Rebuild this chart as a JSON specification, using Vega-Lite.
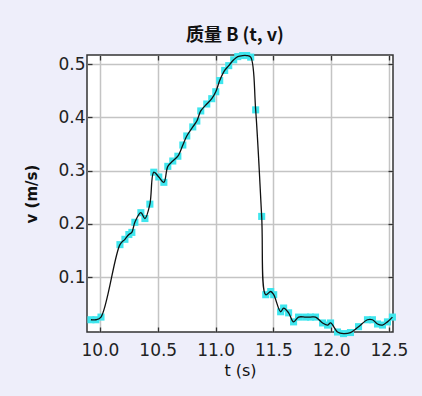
{
  "$schema": "https://vega.github.io/schema/vega-lite/v6.json",
  "width": 306,
  "height": 277,
  "autosize": {"type": "none"},
  "padding": {"left": 87, "top": 55, "right": 29, "bottom": 64},
  "background": "#eeeefa",
  "title": {"text": "质量 B (t, v)", "font": "Noto Sans CJK SC", "fontSize": 18, "fontWeight": "bold", "color": "#111", "anchor": "middle", "offset": 7, "dx": -5},
  "config": {
    "view": {"fill": "white", "stroke": "#333", "strokeWidth": 1.5},
    "axis": {"labelFont": "DejaVu Sans", "labelFontSize": 17, "labelColor": "#222", "titleFont": "DejaVu Sans", "titleColor": "#111", "domain": false, "tickColor": "#333", "tickWidth": 1.3, "tickSize": -5, "gridColor": "#c4c4c4", "gridWidth": 1.5, "gridOpacity": 1}
  },
  "data": {"values": [
    {"t": 9.922, "v": 0.020}, {"t": 9.965, "v": 0.020}, {"t": 10.009, "v": 0.025},
    {"t": 10.173, "v": 0.161}, {"t": 10.216, "v": 0.171}, {"t": 10.250, "v": 0.180},
    {"t": 10.276, "v": 0.184}, {"t": 10.302, "v": 0.203}, {"t": 10.354, "v": 0.221},
    {"t": 10.389, "v": 0.210}, {"t": 10.432, "v": 0.237}, {"t": 10.466, "v": 0.297},
    {"t": 10.509, "v": 0.288}, {"t": 10.553, "v": 0.278}, {"t": 10.587, "v": 0.308},
    {"t": 10.630, "v": 0.318}, {"t": 10.674, "v": 0.327}, {"t": 10.717, "v": 0.348},
    {"t": 10.751, "v": 0.365}, {"t": 10.803, "v": 0.382}, {"t": 10.838, "v": 0.393},
    {"t": 10.872, "v": 0.412}, {"t": 10.924, "v": 0.425}, {"t": 10.967, "v": 0.435},
    {"t": 11.002, "v": 0.448}, {"t": 11.036, "v": 0.469}, {"t": 11.079, "v": 0.488},
    {"t": 11.114, "v": 0.497}, {"t": 11.157, "v": 0.508}, {"t": 11.192, "v": 0.514},
    {"t": 11.235, "v": 0.516}, {"t": 11.269, "v": 0.516}, {"t": 11.304, "v": 0.513},
    {"t": 11.347, "v": 0.414}, {"t": 11.399, "v": 0.214}, {"t": 11.434, "v": 0.067},
    {"t": 11.477, "v": 0.073}, {"t": 11.503, "v": 0.067}, {"t": 11.563, "v": 0.035},
    {"t": 11.589, "v": 0.042}, {"t": 11.632, "v": 0.033}, {"t": 11.675, "v": 0.016},
    {"t": 11.718, "v": 0.025}, {"t": 11.779, "v": 0.025}, {"t": 11.822, "v": 0.025},
    {"t": 11.865, "v": 0.025}, {"t": 11.926, "v": 0.014}, {"t": 11.969, "v": 0.010},
    {"t": 11.995, "v": 0.014}, {"t": 12.055, "v": -0.003}, {"t": 12.107, "v": -0.006},
    {"t": 12.167, "v": -0.004}, {"t": 12.237, "v": 0.007}, {"t": 12.314, "v": 0.020},
    {"t": 12.357, "v": 0.020}, {"t": 12.401, "v": 0.012}, {"t": 12.444, "v": 0.010},
    {"t": 12.487, "v": 0.016}, {"t": 12.530, "v": 0.025}
  ]},
  "layer": [
    {
      "mark": {"type": "point", "shape": "square", "filled": true, "size": 50, "color": "#3fe6ee", "opacity": 1},
      "encoding": {
        "x": {"field": "t", "type": "quantitative", "scale": {"domain": [9.888, 12.535], "nice": false, "zero": false},
              "axis": {"orient": "bottom", "values": [10, 10.5, 11, 11.5, 12, 12.5], "format": ".1f", "title": "t (s)", "titleFontSize": 16, "titleFontWeight": "normal", "titlePadding": 4, "labelPadding": 15, "grid": true}},
        "y": {"field": "v", "type": "quantitative", "scale": {"domain": [-0.003, 0.517], "nice": false, "zero": false},
              "axis": {"orient": "left", "values": [0.1, 0.2, 0.3, 0.4, 0.5], "format": ".1f", "title": "v (m/s)", "titleFontSize": 15, "titleFontWeight": "bold", "titlePadding": 18, "labelPadding": 7, "grid": true}}
      }
    },
    {
      "mark": {"type": "line", "color": "#111", "strokeWidth": 1.3, "interpolate": "catmull-rom"},
      "encoding": {
        "x": {"field": "t", "type": "quantitative", "axis": {"orient": "top", "values": [10, 10.5, 11, 11.5, 12, 12.5], "labels": false, "title": null, "grid": false}},
        "y": {"field": "v", "type": "quantitative", "axis": {"orient": "right", "values": [0.1, 0.2, 0.3, 0.4, 0.5], "labels": false, "title": null, "grid": false}}
      }
    }
  ],
  "resolve": {"axis": {"x": "independent", "y": "independent"}}
}
